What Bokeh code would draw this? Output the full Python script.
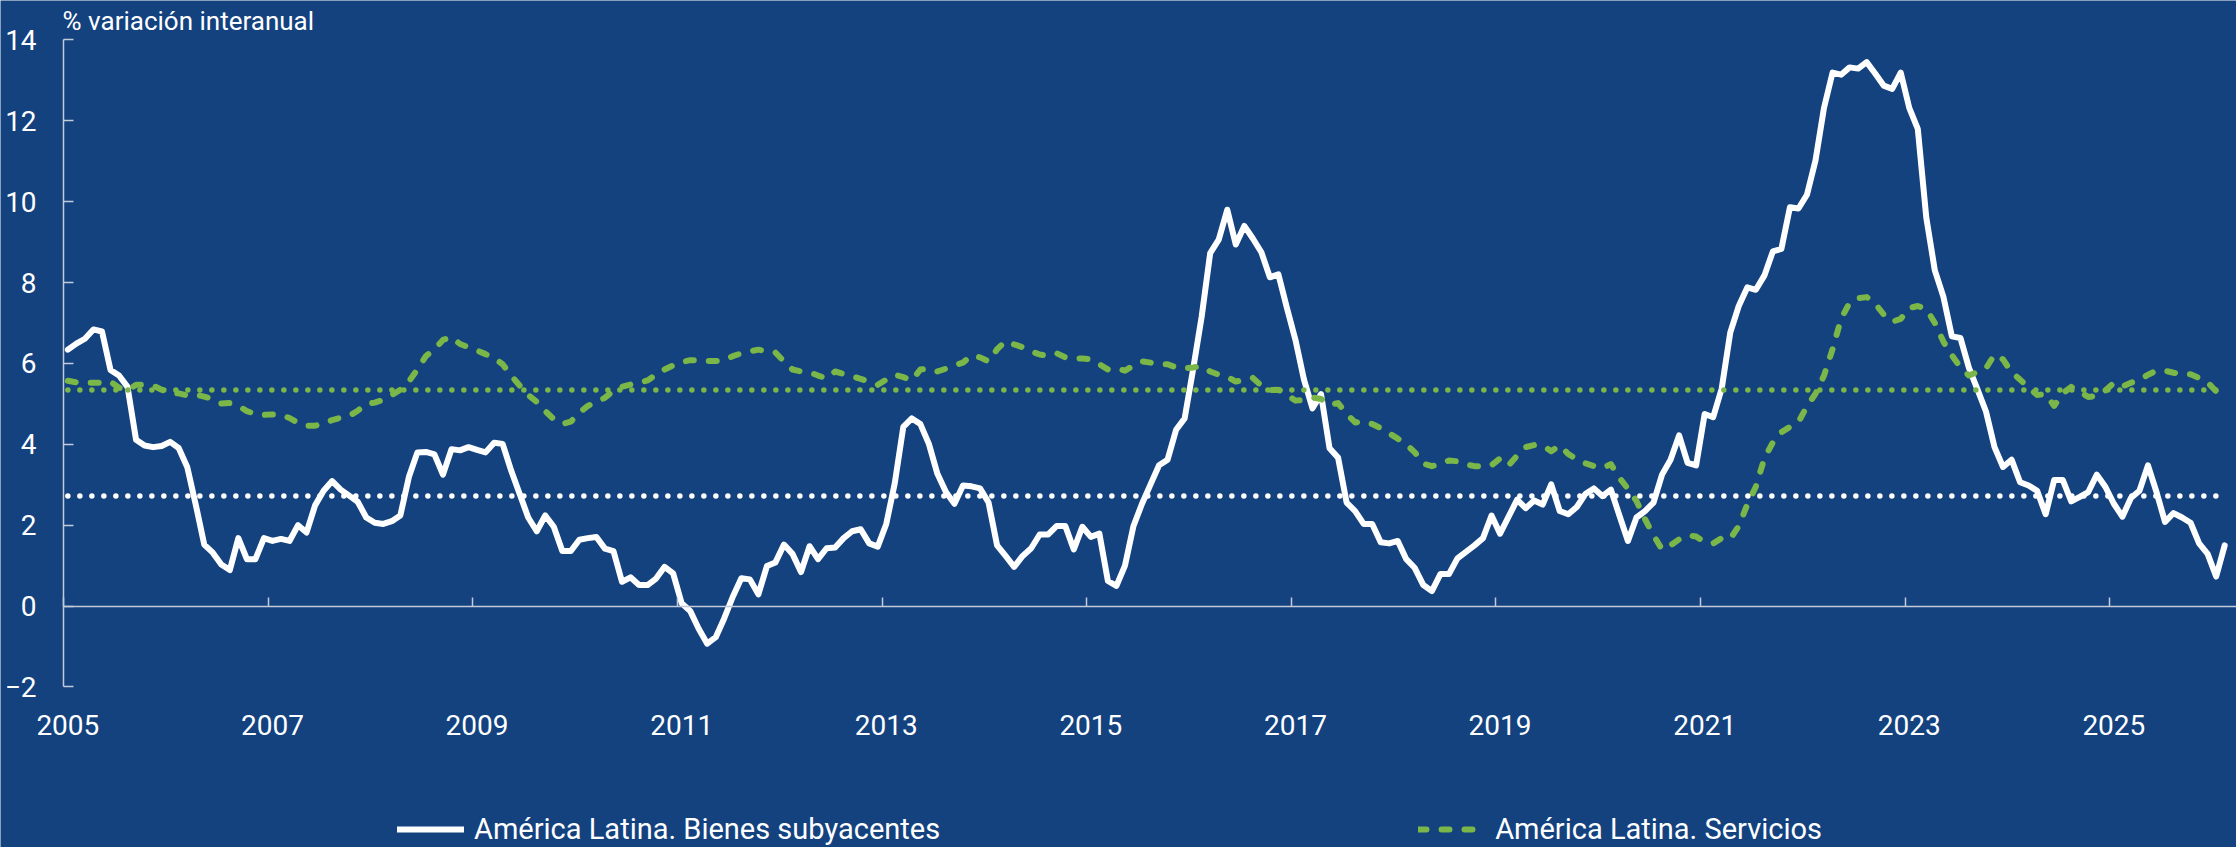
from bokeh.plotting import figure
from bokeh.models import (Range1d, FixedTicker, LinearAxis, Legend, LegendItem,
                          Label, CustomJSTickFormatter, ColumnDataSource)
from bokeh.embed import file_html
from bokeh.resources import INLINE
import pandas as pd

# ---------------- data (monthly, from Jan 2005) ----------------
bienes = [
    6.34, 6.49, 6.61, 6.84, 6.79, 5.84, 5.70, 5.42, 4.11, 3.97, 3.93, 3.96,
    4.06, 3.91, 3.44, 2.51, 1.52, 1.32, 1.03, 0.89, 1.68, 1.16, 1.16, 1.68,
    1.61, 1.66, 1.61, 2.00, 1.82, 2.49, 2.85, 3.09, 2.88, 2.73, 2.58, 2.19,
    2.06, 2.03, 2.10, 2.24, 3.19, 3.80, 3.81, 3.75, 3.25, 3.88, 3.85, 3.93,
    3.86, 3.80, 4.04, 4.01, 3.35, 2.77, 2.19, 1.85, 2.24, 1.96, 1.36, 1.36,
    1.64, 1.68, 1.71, 1.42, 1.36, 0.60, 0.71, 0.52, 0.52, 0.68, 0.97, 0.81,
    0.07, -0.12, -0.56, -0.93, -0.77, -0.30, 0.23, 0.69, 0.66, 0.29, 0.99, 1.08,
    1.52, 1.29, 0.84, 1.48, 1.16, 1.43, 1.45, 1.68, 1.85, 1.90, 1.55, 1.47,
    2.03, 3.04, 4.43, 4.64, 4.50, 4.01, 3.27, 2.82, 2.53, 2.98, 2.96, 2.91,
    2.56, 1.50, 1.24, 0.97, 1.24, 1.43, 1.77, 1.77, 1.98, 1.98, 1.40, 1.96,
    1.71, 1.79, 0.62, 0.50, 1.00, 1.98, 2.53, 3.01, 3.48, 3.62, 4.36, 4.64,
    5.86, 7.16, 8.73, 9.06, 9.80, 8.94, 9.40, 9.09, 8.75, 8.13, 8.20, 7.37,
    6.58, 5.60, 4.89, 5.24, 3.90, 3.67, 2.56, 2.35, 2.03, 2.03, 1.58, 1.55,
    1.61, 1.16, 0.94, 0.52, 0.37, 0.79, 0.79, 1.18, 1.34, 1.50, 1.68, 2.24,
    1.79, 2.21, 2.63, 2.42, 2.61, 2.51, 3.01, 2.35, 2.27, 2.45, 2.77, 2.91,
    2.72, 2.88, 2.24, 1.61, 2.19, 2.35, 2.56, 3.25, 3.62, 4.22, 3.54, 3.48,
    4.75, 4.67, 5.38, 6.76, 7.42, 7.88, 7.82, 8.17, 8.77, 8.83, 9.86, 9.83,
    10.17, 11.02, 12.32, 13.19, 13.14, 13.32, 13.29, 13.45, 13.17, 12.87, 12.79, 13.19,
    12.32, 11.80, 9.60, 8.30, 7.65, 6.67, 6.63, 5.89, 5.36, 4.81, 3.93, 3.44,
    3.62, 3.06, 2.98, 2.85, 2.27, 3.12, 3.12, 2.59, 2.70, 2.82, 3.25, 2.95,
    2.53, 2.21, 2.67, 2.85, 3.48, 2.82, 2.08, 2.30, 2.19, 2.06, 1.55, 1.29,
    0.73, 1.50,
]

servicios = [
    5.57, 5.53, 5.52, 5.52, 5.52, 5.55, 5.40, 5.34, 5.47, 5.47, 5.45, 5.35,
    5.27, 5.26, 5.21, 5.23, 5.18, 5.12, 5.01, 5.02, 4.95, 4.82, 4.75, 4.73,
    4.74, 4.73, 4.65, 4.53, 4.46, 4.46, 4.52, 4.60, 4.66, 4.70, 4.83, 5.00,
    5.03, 5.10, 5.22, 5.35, 5.55, 5.85, 6.18, 6.35, 6.58, 6.65, 6.48, 6.40,
    6.32, 6.23, 6.13, 5.98, 5.70, 5.45, 5.22, 5.05, 4.82, 4.62, 4.50, 4.56,
    4.78, 4.95, 5.05, 5.15, 5.33, 5.42, 5.48, 5.52, 5.58, 5.72, 5.85, 5.95,
    6.03, 6.08, 6.08, 6.06, 6.06, 6.08, 6.18, 6.25, 6.30, 6.34, 6.30, 6.27,
    6.05, 5.85, 5.80, 5.78, 5.70, 5.63, 5.80, 5.74, 5.68, 5.62, 5.55, 5.47,
    5.60, 5.72, 5.66, 5.58, 5.85, 5.87, 5.80, 5.87, 5.95, 6.02, 6.20, 6.15,
    6.05, 6.35, 6.55, 6.47, 6.40, 6.30, 6.22, 6.19, 6.25, 6.15, 6.12, 6.12,
    6.10, 5.98, 5.85, 5.88, 5.82, 5.95, 6.05, 6.02, 5.98, 5.98, 5.90, 5.88,
    5.90, 5.93, 5.80, 5.72, 5.67, 5.55, 5.60, 5.64, 5.45, 5.34, 5.35, 5.22,
    5.08, 5.10, 5.16, 5.12, 4.97, 5.02, 4.75, 4.54, 4.57, 4.50, 4.40, 4.27,
    4.14, 4.00, 3.80, 3.52, 3.46, 3.51, 3.60, 3.58, 3.50, 3.46, 3.46, 3.48,
    3.65, 3.48, 3.72, 3.93, 3.98, 3.97, 3.83, 3.97, 3.76, 3.63, 3.53, 3.46,
    3.41, 3.51, 3.17, 2.90, 2.60, 2.15, 1.75, 1.40, 1.50, 1.65, 1.75, 1.72,
    1.58, 1.55, 1.68, 1.66, 1.98, 2.51, 2.95, 3.65, 4.05, 4.30, 4.43, 4.55,
    4.94, 5.25, 5.70, 6.35, 7.10, 7.50, 7.61, 7.64, 7.48, 7.21, 7.03, 7.10,
    7.37, 7.42, 7.35, 7.00, 6.54, 6.20, 5.90, 5.70, 5.79, 5.88, 6.22, 6.10,
    5.78, 5.60, 5.40, 5.22, 5.24, 4.95, 5.26, 5.42, 5.30, 5.17, 5.20, 5.33,
    5.52, 5.43, 5.52, 5.59, 5.72, 5.82, 5.82, 5.77, 5.73, 5.73, 5.64, 5.53,
    5.31, 5.52,
]

media_bienes = 2.72
media_servicios = 5.34

y_ticks = [-2, 0, 2, 4, 6, 8, 10, 12, 14]
x_tick_years = [2005, 2007, 2009, 2011, 2013, 2015, 2017, 2019, 2021, 2023, 2025]

label_bienes = "América Latina. Bienes subyacentes"
label_servicios = "América Latina. Servicios"
y_title = "% variación interanual"

# ---------------- styling ----------------
BG = "#13427f"
AX = "#c3cbd8"
GREEN = "#7ab648"
FONT = "Roboto"

fechas = pd.date_range("2005-01-01", periods=len(bienes), freq="MS")
x = [f.year + (f.month - 0.5) / 12 for f in fechas]
n = len(x)

src = ColumnDataSource(dict(
    x=x, bienes=bienes, servicios=servicios,
    mb=[media_bienes] * n, ms=[media_servicios] * n,
))

# geometry: the frame covers the whole canvas; axes are placed at fixed positions
W, H = 2236, 847
AXIS_X_PX, TOP_PX = 63.1, 39.4          # pixel position of the y axis and of y = 14
px_per_year = 102.3
px_per_unit = 40.44
x0_year = x_tick_years[0]
x_start = x0_year - AXIS_X_PX / px_per_year
x_end = x0_year + (W - AXIS_X_PX) / px_per_year
y_top = y_ticks[-1] + TOP_PX / px_per_unit
y_bottom = y_ticks[-1] - (H - TOP_PX) / px_per_unit

p = figure(width=W, height=H, x_range=Range1d(x_start, x_end),
           y_range=Range1d(y_bottom, y_top),
           output_backend="svg", toolbar_location=None,
           x_axis_location=None, y_axis_location=None,
           background_fill_color=BG, border_fill_color=BG, outline_line_color=None,
           min_border_left=0, min_border_right=0, min_border_top=0,
           min_border_bottom=0)
p.grid.visible = False

# y axis at 2005, limited to -2..14
ya = LinearAxis(fixed_location=x0_year, bounds=(y_ticks[0], y_ticks[-1]),
                ticker=FixedTicker(ticks=y_ticks),
                axis_line_color=AX, axis_line_width=1.5,
                major_tick_line_color=AX, major_tick_line_width=1.5,
                major_tick_in=10, major_tick_out=0, minor_tick_line_color=None,
                major_label_text_font=FONT, major_label_text_font_size="28px",
                major_label_text_color="white", major_label_standoff=27)
p.add_layout(ya, "left")

# x labels under the -2 level
xa = LinearAxis(fixed_location=y_ticks[0],
                ticker=FixedTicker(ticks=[yr + 0.5 / 12 for yr in x_tick_years]),
                formatter=CustomJSTickFormatter(code="return Math.floor(tick).toString();"),
                axis_line_color=None, major_tick_line_color=None,
                minor_tick_line_color=None, major_tick_out=0, major_tick_in=0,
                major_label_text_font=FONT, major_label_text_font_size="28px",
                major_label_text_color="white", major_label_standoff=28)
p.add_layout(xa, "below")

# x axis line at y = 0 with ticks
ax0 = LinearAxis(fixed_location=0, bounds=(x0_year, x_end),
                 ticker=FixedTicker(ticks=x_tick_years),
                 axis_line_color=AX, axis_line_width=1.5,
                 major_tick_line_color=AX, major_tick_line_width=1.5,
                 major_tick_in=9, major_tick_out=0, minor_tick_line_color=None,
                 major_label_text_font_size="1px", major_label_standoff=0,
                 formatter=CustomJSTickFormatter(code="return '';"))
p.add_layout(ax0, "below")

# series
r_b = p.line("x", "bienes", source=src, line_color="white", line_width=6,
             line_join="round", line_cap="round")
r_s = p.line("x", "servicios", source=src, line_color=GREEN, line_width=6,
             line_dash="8 15", line_join="round", line_cap="round")
p.line("x", "mb", source=src, line_color="white", line_width=5.5,
       line_dash="0 12", line_cap="round")
p.line("x", "ms", source=src, line_color=GREEN, line_width=5.5,
       line_dash="0 12", line_cap="round")

# unit title above the axis
p.add_layout(Label(x=x0_year, y=y_ticks[-1], text=y_title, x_offset=-1, y_offset=19,
                   text_baseline="alphabetic", text_align="left", text_font=FONT,
                   text_font_size="26px", text_color="white"))

# legend at the foot of the canvas
legend = Legend(items=[LegendItem(label=label_bienes, renderers=[r_b]),
                       LegendItem(label=label_servicios, renderers=[r_s])],
                orientation="horizontal", location=(397, 0),
                glyph_width=67, glyph_height=36, label_height=36,
                label_standoff=10, spacing=478,
                padding=0, margin=0, border_line_color=None,
                background_fill_alpha=0, label_text_font=FONT,
                label_text_font_size="29px", label_text_color="white")
p.add_layout(legend, "center")

open("out.html", "w").write(file_html(p, INLINE))
